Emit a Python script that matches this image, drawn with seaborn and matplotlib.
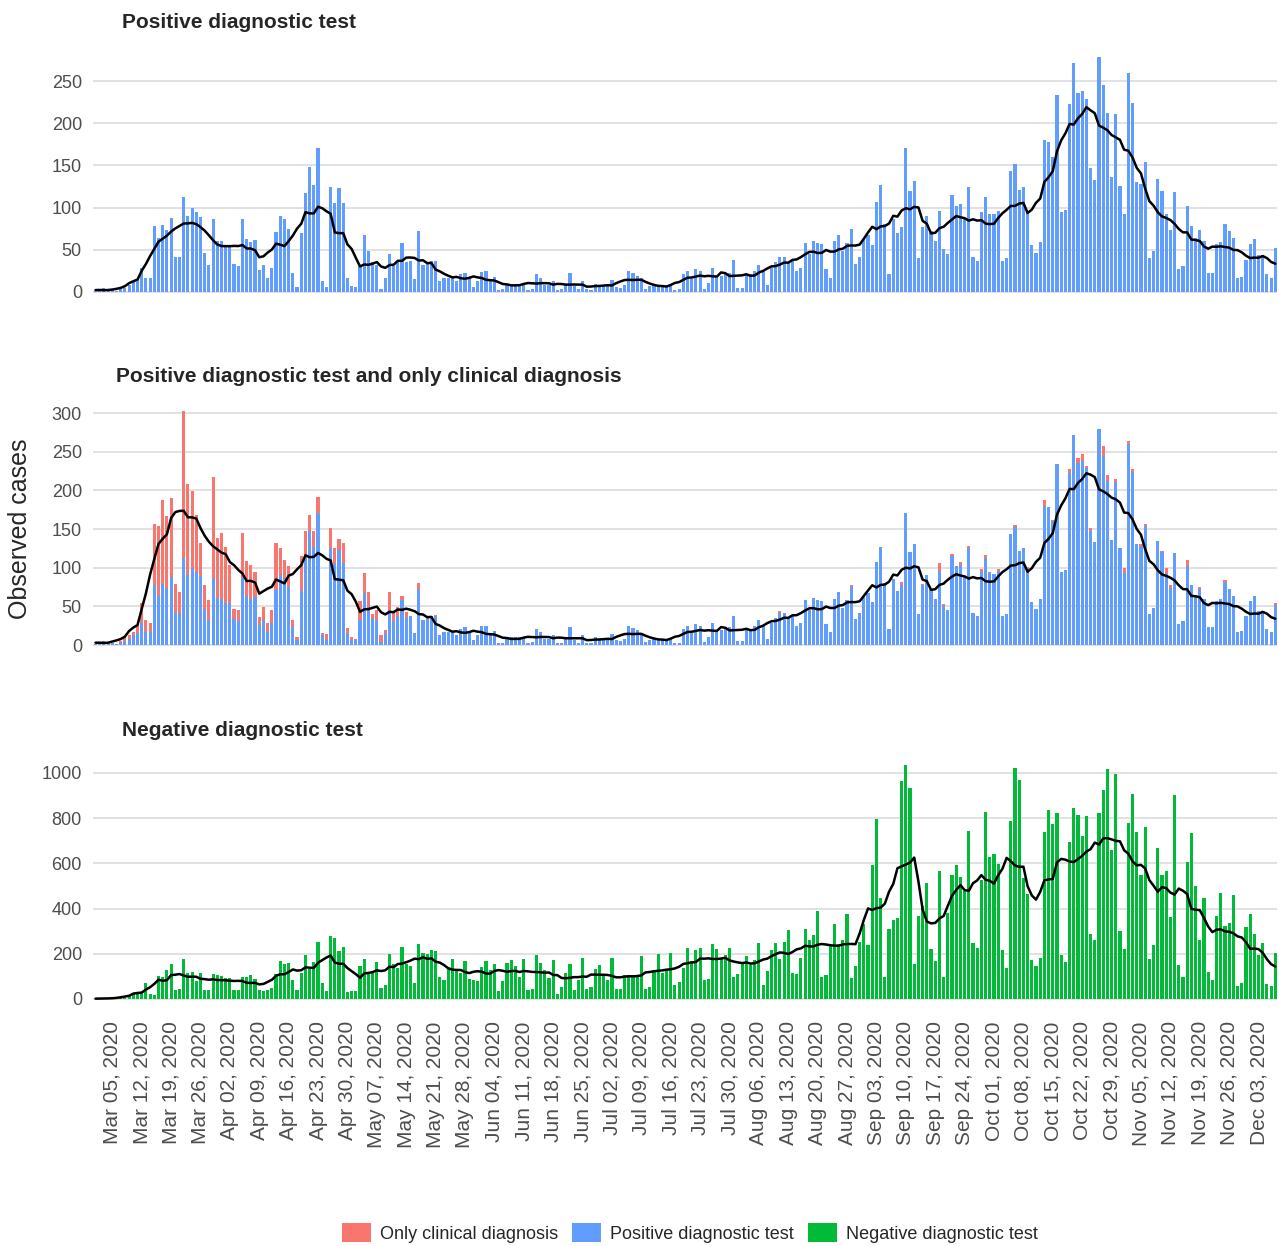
"""Daily observed COVID-19 cases by diagnosis type, three stacked panels."""

import matplotlib

matplotlib.use("Agg")
import matplotlib.pyplot as plt  # noqa: E402
import numpy as np  # noqa: E402
import pandas as pd  # noqa: E402
import seaborn as sns  # noqa: E402
from matplotlib.patches import Patch  # noqa: E402

START_DATE = "2020-03-01"

# daily positive diagnostic tests (Mar 01 .. Dec 07)
positive = [
    1, 2, 5, 1, 3, 1, 3, 5, 8, 13, 15, 28, 17, 17, 78, 64, 79, 74, 88, 42,
    42, 112, 90, 99, 95, 89, 46, 32, 87, 61, 60, 54, 54, 33, 31, 87, 63, 59, 62, 26,
    32, 17, 29, 71, 90, 87, 75, 23, 6, 70, 117, 148, 127, 171, 13, 6, 125, 105, 123, 106,
    16, 7, 6, 32, 67, 49, 35, 32, 4, 16,
    45, 31, 37, 58, 35, 37, 15, 72, 32, 33, 37, 37, 13, 17, 17, 17, 13, 21, 23, 17,
    6, 13, 24, 25, 13, 18, 2, 3, 10, 10, 10, 10, 10, 2, 4, 21, 17, 8, 8, 13,
    2, 3, 10, 23, 7, 3, 13, 3, 2, 10, 6, 8, 7, 14, 6, 5, 8, 25, 22, 19,
    16, 4, 7, 8, 8, 8, 8, 8, 2,
    3, 21, 25, 15, 27, 25, 4, 11, 29, 19, 19, 23, 23, 38, 5, 5, 21, 21, 25, 32,
    25, 8, 29, 35, 41, 42, 35, 37, 25, 28, 58, 45, 61, 58, 57, 27, 17, 60, 68, 48,
    58, 75, 33, 41, 63, 67, 56, 107, 127, 80, 21, 86, 70, 77, 171, 120, 131, 40, 77, 90,
    72, 60, 96, 51, 45, 115, 102, 104, 88, 125,
    41, 37, 95, 113, 93, 92, 96, 37, 40, 143, 152, 121, 125, 96, 56, 46, 59, 180, 178, 160,
    234, 95, 97, 223, 271, 236, 238, 229, 147, 133, 279, 245, 212, 136, 211, 126, 93, 260, 224, 130,
    128, 154, 40, 48, 134, 120, 92, 74, 119, 27, 31, 102, 78, 64, 73, 60, 23, 23, 57, 59,
    81, 72, 64, 17, 18, 38, 57, 63, 44, 44, 21, 17, 52,
]

# daily cases with only a clinical diagnosis
clinical = [
    0, 0, 0, 3, 0, 0, 2, 6, 5, 4, 11, 26, 15, 11, 78, 90, 109, 93, 102, 37,
    26, 191, 118, 100, 73, 43, 31, 26, 130, 77, 85, 73, 50, 14, 14, 58, 46, 44, 32, 10,
    17, 12, 16, 61, 36, 23, 27, 9, 5, 45, 30, 20, 21, 20, 2, 8, 26, 20, 14, 26,
    6, 4, 2, 25, 26, 20, 5, 13, 9, 3, 24, 11, 12, 5, 8, 0, 0, 8, 0, 3,
    0, 2, 0, 0, 0, 0, 0, 0, 0, 0, 0, 0, 0, 0, 0, 0, 0, 0, 0, 0,
    0, 0, 0, 0, 0, 0, 0, 0, 0, 0, 0, 0, 0, 0, 0, 0, 0, 0, 0, 0,
    0, 0, 0, 0, 0, 0, 0, 0, 0, 0, 0, 0, 0, 0, 0, 0, 0, 0, 0, 0,
    0, 0, 0, 0, 0, 0, 0, 0, 0, 0, 0, 0, 0, 0, 0, 0, 0, 0, 0, 0,
    0, 0, 0, 3, 0, 0, 0, 0, 0, 0, 0, 0, 0, 0, 0, 0, 0, 0, 0, 0,
    3, 0, 0, 0, 0, 0, 0, 0, 0, 0, 0, 0, 5, 0, 0, 0, 0, 2, 0, 0,
    0, 10, 2, 0, 3, 0, 3, 0, 3, 0, 0, 3, 3, 2, 0, 2, 0, 0, 0, 3,
    0, 0, 5, 0, 0, 0, 8, 0, 2, 0, 0, 0, 4, 0, 6, 9, 3, 4, 0, 0,
    13, 8, 0, 4, 0, 7, 4, 4, 0, 3, 3, 0, 0, 0, 2, 7, 3, 0, 0, 0,
    8, 0, 0, 2, 0, 0, 0, 0, 0, 3, 0, 0, 0, 0, 0, 0, 0, 0, 0, 0,
    0, 2,
]

# daily negative diagnostic tests
negative = [
    1, 1, 2, 2, 3, 4, 5,
    6, 12, 21, 24, 27, 72, 24, 19, 102, 97, 127, 156, 38, 43, 176, 115, 119, 80, 117, 41,
    41, 112, 105, 100, 94, 94, 38, 38, 97, 97, 105, 87, 38, 35, 41, 49, 112, 167, 153, 161,
    83, 41, 117, 193, 131, 164, 252, 71, 34, 279, 271, 212, 230, 31, 34, 34, 145, 178, 117, 119,
    164, 50, 60,
    200, 156, 139, 230, 153, 145, 71, 245, 205, 200, 215, 211, 97, 86, 142, 176, 124, 115, 167, 90,
    83, 80, 142, 167, 130, 153, 34, 80, 161, 171, 145, 97, 178, 38, 46, 193, 159, 127, 94, 171,
    24, 53, 115, 156, 38, 86, 183, 46, 53, 134, 149, 105, 83, 181, 46, 46, 105, 105, 105, 105,
    190, 46, 53, 127, 198, 117, 127, 204, 60,
    75, 139, 226, 167, 215, 226, 83, 90, 245, 223, 176, 196, 226, 97, 112, 164, 189, 149, 174, 248,
    60, 124, 218, 248, 178, 252, 307, 115, 109, 183, 311, 260, 282, 388, 97, 105, 240, 330, 245, 260,
    375, 94, 146, 252, 333, 237, 594, 795, 448, 97, 311, 348, 360, 965, 1034, 935, 156, 366, 410, 513,
    223, 168, 565, 97, 380, 547, 591, 540, 478, 742,
    248, 226, 525, 827, 628, 640, 599, 215, 139, 786, 1024, 968, 537, 466, 171, 146, 181, 739, 838, 776,
    825, 196, 164, 695, 845, 813, 720, 808, 289, 263, 825, 923, 1016, 658, 997, 301, 223, 779, 909, 739,
    550, 761, 178, 237, 670, 547, 566, 363, 901, 152, 97, 606, 735, 499, 260, 447, 119, 86, 367, 469,
    322, 336, 459, 58, 72, 319, 375, 286, 196, 248, 65, 56, 205,
]

PANEL_TITLES = [
    "Positive diagnostic test",
    "Positive diagnostic test and only clinical diagnosis",
    "Negative diagnostic test",
]
LEGEND_LABELS = ["Only clinical diagnosis", "Positive diagnostic test", "Negative diagnostic test"]

RED, BLUE, GREEN = "#F8766D", "#619CFF", "#00BA38"
GRID = "#D9D9D9"
TICK_GREY = "#4D4D4D"

W, H = 1279, 1246


def style_axis(ax, ylim, yticks):
    ax.set_ylim(*ylim)
    ax.set_yticks(yticks)
    ax.set_xlim(-0.6, len(positive) - 0.6)
    ax.set_axisbelow(True)
    ax.yaxis.grid(True, color=GRID, linewidth=1.1)
    ax.xaxis.grid(False)
    ax.set_xlabel("")
    ax.set_ylabel("")
    ax.tick_params(axis="both", length=0, labelsize=13, labelcolor=TICK_GREY)
    ax.tick_params(axis="y", pad=8)
    sns.despine(ax=ax, left=True, bottom=True)


def main() -> None:
    sns.set_theme(style="white")
    plt.rcParams["font.family"] = ["Liberation Sans", "DejaVu Sans"]

    dates = pd.date_range(START_DATE, periods=len(positive), freq="D")
    df = pd.DataFrame(
        {
            "day": np.arange(len(dates)),
            "positive": positive,
            "clinical": clinical,
            "negative": negative,
        }
    )
    df["total"] = df["positive"] + df["clinical"]
    for col in ["positive", "total", "negative"]:
        df[f"{col}_smooth"] = df[col].rolling(7, center=True, min_periods=1).mean()

    fig = plt.figure(figsize=(W / 100, H / 100), dpi=100)

    def add_axes(top, bottom):
        return fig.add_axes([93 / W, 1 - bottom / H, (1277 - 93) / W, (bottom - top) / H])

    bar_kws = dict(width=0.75, saturation=1, errorbar=None, linewidth=0)
    line_kws = dict(color="black", linewidth=1.8)

    ax1 = add_axes(51.5, 294.5)
    sns.barplot(data=df, x="day", y="positive", color=BLUE, ax=ax1, **bar_kws)
    sns.lineplot(data=df, x="day", y="positive_smooth", ax=ax1, **line_kws)
    style_axis(ax1, (-3, 285), [0, 50, 100, 150, 200, 250])

    ax2 = add_axes(405.3, 648.1)
    sns.barplot(data=df, x="day", y="total", color=RED, ax=ax2, **bar_kws)
    sns.barplot(data=df, x="day", y="positive", color=BLUE, ax=ax2, **bar_kws)
    sns.lineplot(data=df, x="day", y="total_smooth", ax=ax2, **line_kws)
    style_axis(ax2, (-4, 310), [0, 50, 100, 150, 200, 250, 300])

    ax3 = add_axes(762.8, 1001.7)
    sns.barplot(data=df, x="day", y="negative", color=GREEN, ax=ax3, **bar_kws)
    sns.lineplot(data=df, x="day", y="negative_smooth", ax=ax3, **line_kws)
    style_axis(ax3, (-12, 1045), [0, 200, 400, 600, 800, 1000])

    week_days = df["day"][dates.strftime("%a") == "Thu"]
    week_labels = dates[week_days.values].strftime("%b %d, %Y")
    for ax in (ax1, ax2):
        ax.set_xticks(week_days)
        ax.set_xticklabels([])
    ax3.set_xticks(week_days)
    ax3.set_xticklabels(week_labels, rotation=90, fontsize=15)
    ax3.tick_params(axis="x", pad=14)

    for y, title, x in zip([23, 377, 731], PANEL_TITLES, [122, 116, 122]):
        fig.text(x / W, 1 - y / H, title, fontsize=15, fontweight="bold", va="center", ha="left")

    fig.text(20 / W, 1 - 529 / H, "Observed cases", rotation=90, fontsize=18, va="center", ha="center")

    handles = [Patch(facecolor=c, edgecolor="none") for c in (RED, BLUE, GREEN)]
    fig.legend(
        handles,
        LEGEND_LABELS,
        loc="center",
        bbox_to_anchor=(690 / W, 1 - 1233 / H),
        ncol=3,
        frameon=False,
        fontsize=13,
        handlelength=1.6,
        handleheight=1.2,
        handletextpad=0.5,
        columnspacing=0.8,
    )

    fig.savefig("out.png", dpi=100)


if __name__ == "__main__":
    main()
